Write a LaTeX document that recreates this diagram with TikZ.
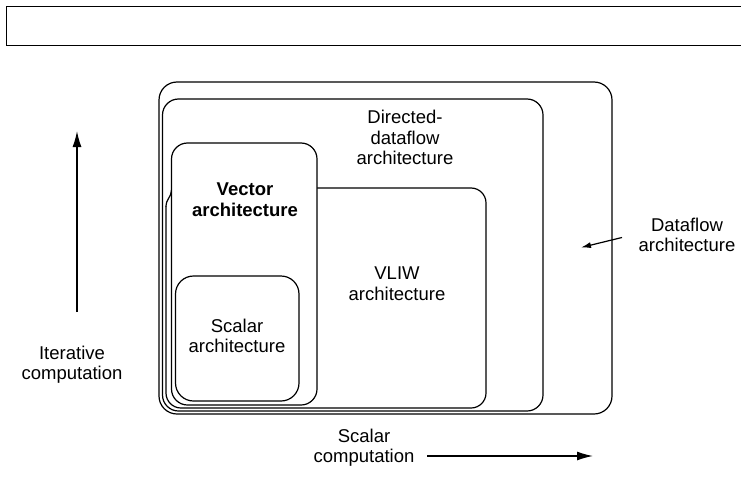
\documentclass[tikz,border=0pt]{standalone}
\usepackage{fontspec}
\setmainfont{Liberation Sans}
\usetikzlibrary{arrows.meta}
\begin{document}
\begin{tikzpicture}[x=1pt,y=-1pt,
  archbox/.style={draw=black,line width=1.2pt,rounded corners=#1},
  archbox/.default=16pt,
  lbl/.style={align=center,font=\fontsize{18.5}{20.5}\selectfont,inner sep=0pt},
  axis/.style={line width=1.4pt,-{Latex[length=16pt,width=9pt]}},
  pointer/.style={line width=1.2pt,-{Latex[length=10pt,width=6pt]}}]
  \useasboundingbox (0,0) rectangle (741,487);

  % empty caption frame along the top, open at the right edge
  \draw[line width=1pt] (741,7) -- (6,7) -- (6,46) -- (741,46);

  % nested architecture regions
  \draw[archbox=18pt] (159,82) rectangle (612,414);
  \draw[archbox=16pt] (162.5,99) rectangle (543,411);
  \draw[archbox=15pt] (317,188) -- (486,188) -- (486,408) -- (166,408) -- (166,206);
  \draw[line width=1.2pt] (166,206.6) .. controls (166,199) and (171.5,197) .. (171.5,190);
  \draw[archbox=16pt,fill=white] (171.5,143) rectangle (317,405);
  \draw[archbox=18pt] (175.5,276) rectangle (299,401);

  % labels
  \node[lbl] (dflow) at (687,235) {Dataflow\\architecture};
  \node[lbl] (ddflow) at (405,137.5) {Directed-\\dataflow\\architecture};
  \node[lbl,font=\fontsize{18.5}{21}\selectfont\bfseries] (vector) at (245,200) {Vector\\architecture};
  \node[lbl] (vliw) at (397,283.5) {VLIW\\architecture};
  \node[lbl] (scalar) at (237,336) {Scalar\\architecture};
  \node[lbl] (iter) at (72,364.5) {Iterative\\computation};
  \node[lbl] (scomp) at (364,447.5) {Scalar\\computation};

  % axes and pointer
  \coordinate (itTail) at (77,312);
  \coordinate (itHead) at (77,131);
  \coordinate (scTail) at (427,456);
  \coordinate (scHead) at (593,456);
  \coordinate (ptTail) at (622,237.5);
  \coordinate (ptHead) at (581,247.5);
  \draw[axis] (itTail) -- (itHead);
  \draw[axis] (scTail) -- (scHead);
  \draw[pointer] (ptTail) -- (ptHead);
\end{tikzpicture}
\end{document}
